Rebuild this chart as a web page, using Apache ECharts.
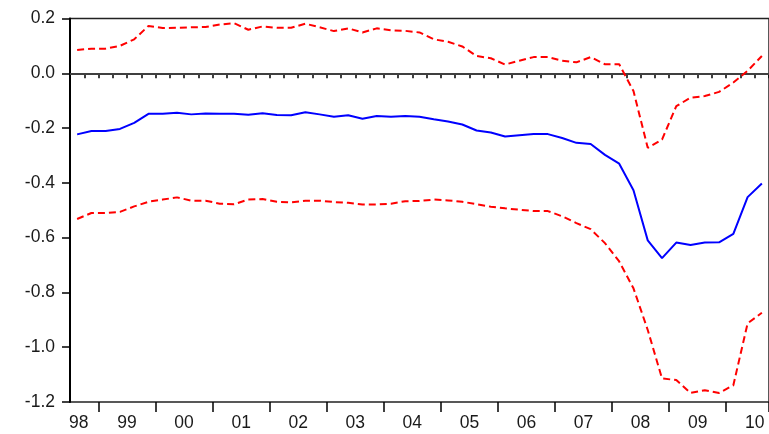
<!DOCTYPE html>
<html>
<head>
<meta charset="utf-8">
<script src="https://cdn.jsdelivr.net/npm/echarts@6/dist/echarts.min.js"></script>
<style>
html,body{margin:0;padding:0;background:#fff;}
#chart{width:769px;height:434px;}
</style>
</head>
<body>
<div id="chart"></div>
<script>
// Quarterly categories 1998Q3 .. 2010Q3
var quarters = [];
(function(){
  for (var y = 1998; y <= 2010; y++) {
    for (var q = 1; q <= 4; q++) {
      if (y === 1998 && q < 3) continue;
      if (y === 2010 && q > 3) continue;
      quarters.push(y + 'Q' + q);
    }
  }
})();

var estimate = [
  -0.223, -0.211, -0.211, -0.203, -0.181, -0.148, -0.148, -0.144, -0.150, -0.147,
  -0.148, -0.148, -0.151, -0.146, -0.152, -0.153, -0.142, -0.150, -0.159, -0.153,
  -0.166, -0.156, -0.159, -0.156, -0.159, -0.168, -0.176, -0.187, -0.209, -0.216,
  -0.231, -0.226, -0.222, -0.222, -0.236, -0.254, -0.258, -0.298, -0.330, -0.427,
  -0.610, -0.675, -0.618, -0.627, -0.618, -0.617, -0.586, -0.452, -0.402
];

var upperBand = [
  0.085, 0.090, 0.090, 0.100, 0.124, 0.173, 0.165, 0.166, 0.168, 0.169,
  0.178, 0.183, 0.159, 0.171, 0.166, 0.166, 0.181, 0.168, 0.154, 0.164,
  0.149, 0.164, 0.157, 0.155, 0.149, 0.124, 0.115, 0.098, 0.063, 0.055,
  0.032, 0.046, 0.059, 0.059, 0.046, 0.040, 0.059, 0.033, 0.033, -0.065,
  -0.272, -0.242, -0.120, -0.089, -0.083, -0.068, -0.034, 0.009, 0.063
];

var lowerBand = [
  -0.532, -0.510, -0.510, -0.506, -0.486, -0.469, -0.461, -0.453, -0.465, -0.465,
  -0.476, -0.478, -0.461, -0.459, -0.469, -0.471, -0.465, -0.465, -0.470, -0.473,
  -0.479, -0.479, -0.476, -0.467, -0.466, -0.461, -0.464, -0.469, -0.478, -0.487,
  -0.493, -0.498, -0.503, -0.503, -0.522, -0.547, -0.569, -0.620, -0.687, -0.785,
  -0.937, -1.114, -1.120, -1.167, -1.157, -1.167, -1.139, -0.913, -0.874
];

var yearLabels = ['98','99','00','01','02','03','04','05','06','07','08','09','10'];
var yTicks = { min: -1.2, max: 0.2, step: 0.2 };

var FONT = "'Liberation Sans', Arial, sans-serif";
var FS = 17.5;
var TXT = '#1a1a1a';

var chart = echarts.init(document.getElementById('chart'), null, {renderer: 'canvas'});

function yearIndexOf(value) {
  return parseInt(value.slice(0, 4), 10) - 1998;
}

var option = {
  animation: false,
  backgroundColor: '#ffffff',
  grid: {
    left: 70, top: 18.5, width: 701, height: 383.5,
    show: true, borderColor: '#222', borderWidth: 1.5,
    containLabel: false
  },
  xAxis: [
    {
      type: 'category',
      data: quarters,
      boundaryGap: true,
      position: 'bottom',
      axisLine: { show: true, lineStyle: { color: '#000', width: 2 } },
      axisTick: {
        show: true, inside: false, length: 5, alignWithLabel: false,
        interval: 0,
        lineStyle: { color: '#000', width: 1.5 }
      },
      axisLabel: {
        show: true,
        interval: function (index, value) { return /Q3$/.test(value); },
        margin: 12,
        fontFamily: FONT, fontSize: FS, color: TXT,
        formatter: function (value, index) {
          var lab = yearLabels[yearIndexOf(value)];
          return index === 0 ? '{first|' + lab + '}' : '{yr|' + lab + '}';
        },
        rich: {
          first: { fontFamily: FONT, fontSize: FS, color: TXT, padding: [0, 0, 0, 3] },
          yr: { fontFamily: FONT, fontSize: FS, color: TXT, padding: [0, 14.3, 0, 0] }
        }
      },
      splitLine: { show: false }
    },
    {
      type: 'category',
      data: quarters,
      boundaryGap: true,
      position: 'bottom',
      gridIndex: 0,
      axisLine: { show: false },
      axisTick: {
        show: true, inside: false, length: 10, alignWithLabel: false,
        interval: function (index, value) { return /Q1$/.test(value); },
        lineStyle: { color: '#000', width: 1.5 }
      },
      axisLabel: { show: false },
      splitLine: { show: false }
    }
  ],
  yAxis: {
    type: 'value',
    min: yTicks.min, max: yTicks.max, interval: yTicks.step,
    axisLine: { show: true, lineStyle: { color: '#000', width: 2 } },
    axisTick: { show: true, inside: false, length: 8, lineStyle: { color: '#000', width: 1.5 } },
    axisLabel: {
      margin: 15,
      fontFamily: FONT, fontSize: FS, color: TXT,
      padding: [0, 0, 12, 0],
      formatter: function (v) { return (Math.abs(v) < 1e-9 ? 0 : v).toFixed(1); }
    },
    splitLine: { show: false }
  },
  series: [
    {
      name: 'upper', type: 'line', data: upperBand,
      symbol: 'none', smooth: false,
      lineStyle: { color: '#ff0000', width: 2, type: [7, 4] },
      z: 2
    },
    {
      name: 'lower', type: 'line', data: lowerBand,
      symbol: 'none', smooth: false,
      lineStyle: { color: '#ff0000', width: 2, type: [7, 4] },
      z: 2
    },
    {
      name: 'estimate', type: 'line', data: estimate,
      symbol: 'none', smooth: false,
      lineStyle: { color: '#0000ff', width: 2 },
      z: 3,
      markLine: {
        silent: true, symbol: ['none', 'none'],
        label: { show: false },
        lineStyle: { color: '#555', width: 1.5, type: 'solid' },
        data: [{ yAxis: 0 }],
        z: 1
      }
    }
  ]
};

chart.setOption(option);
</script>
</body>
</html>
